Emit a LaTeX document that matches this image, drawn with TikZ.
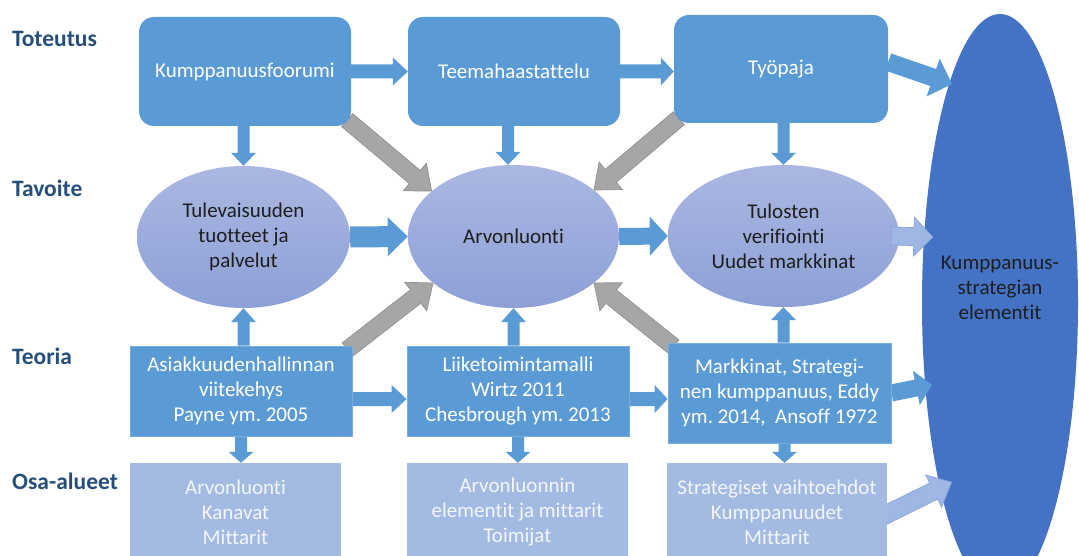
\documentclass[tikz,border=0pt]{standalone}
\usepackage{fontspec}
\setmainfont{Carlito}[Ligatures={NoCommon}]
\usetikzlibrary{shapes.geometric,calc}
\frenchspacing

\definecolor{lblcol}{RGB}{37,79,122}
\definecolor{boxblue}{RGB}{91,155,213}
\definecolor{boxedge}{RGB}{120,172,222}
\definecolor{paleblue}{RGB}{163,186,226}
\definecolor{paletext}{RGB}{244,246,250}
\definecolor{elltop}{RGB}{171,183,226}
\definecolor{ellbot}{RGB}{141,160,214}
\definecolor{bigblue}{RGB}{68,114,196}
\definecolor{arrgray}{RGB}{166,166,166}
\definecolor{arrgrayedge}{RGB}{145,145,145}
\definecolor{lightarrow}{RGB}{160,183,227}
\definecolor{lightedge}{RGB}{135,165,218}
\definecolor{darktext}{RGB}{30,30,30}

\pgfdeclarelayer{ellipses}
\pgfdeclarelayer{arrows}
\pgfsetlayers{ellipses,arrows,main}

% Block arrow between two points:
% #1 style, #2 from, #3 to, #4 shaft half-width, #5 head half-width,
% #6 head length, #7 overshoot of the tip beyond the target point
\newcommand\blockarrow[7]{%
  \coordinate (ba-a) at (#2);
  \coordinate (ba-b0) at (#3);
  \coordinate (ba-b) at ($(ba-b0)!-#7!(ba-a)$);
  \coordinate (ba-h) at ($(ba-b)!#6!(ba-a)$);
  \path[#1] ($(ba-a)!#4!90:(ba-b)$) -- ($(ba-h)!#4!-90:(ba-a)$)
    -- ($(ba-h)!#5!-90:(ba-a)$) -- (ba-b) -- ($(ba-h)!#5!90:(ba-a)$)
    -- ($(ba-h)!#4!90:(ba-a)$) -- ($(ba-a)!#4!-90:(ba-b)$) -- cycle;
}

\tikzset{
  rowlabel/.style={anchor=west, inner sep=0pt, text=lblcol,
    font=\fontsize{23.5}{28}\selectfont\bfseries},
  boxtext/.style={align=center, font=\fontsize{21}{25}\selectfont},
  stagebox/.style={boxtext, rounded corners=15pt, fill=boxblue, text=white, inner sep=0pt},
  theorybox/.style={boxtext, fill=boxblue, draw=boxedge, line width=0.8pt, text=white, inner sep=0pt},
  areabox/.style={boxtext, fill=paleblue, text=paletext, inner sep=0pt},
  goal/.style={boxtext, ellipse, top color=elltop, bottom color=ellbot, text=darktext, inner sep=0pt},
  bluearrow/.style={fill=boxblue},
  grayarrow/.style={fill=arrgray, draw=arrgrayedge, line width=0.7pt},
  palearrow/.style={fill=lightarrow, draw=lightedge, line width=0.7pt},
}

\begin{document}
\begin{tikzpicture}[x=1pt,y=-1pt]
\useasboundingbox (0,0) rectangle (1079,556);

\begin{pgfonlayer}{ellipses}
  \fill[white] (0,0) rectangle (1079,556);
  % goals
  \node[goal, minimum width=213pt, minimum height=142pt] (tul) at (243.5,237)
    {Tulevaisuuden\\tuotteet ja\\palvelut};
  \node[goal, minimum width=211pt, minimum height=143pt] (arv) at (513.5,236.5)
    {Arvonluonti};
  \node[goal, minimum width=231pt, minimum height=142pt] (tuv) at (783.5,236)
    {Tulosten\\verifiointi\\Uudet markkinat};
  % outcome
  \node[ellipse, fill=bigblue, minimum width=156pt, minimum height=578pt, inner sep=0pt]
    (big) at (1000,303) {};
\end{pgfonlayer}

% row labels
\node[rowlabel] (l1) at (12,39) {Toteutus};
\node[rowlabel] (l2) at (12,188) {Tavoite};
\node[rowlabel] (l3) at (12,356) {Teoria};
\node[rowlabel] (l4) at (12,481) {Osa-alueet};

% implementation stages
\node[stagebox, minimum width=212pt, minimum height=109pt] (kf) at (245,71.5) {Kumppanuusfoorumi};
\node[stagebox, minimum width=212pt, minimum height=109pt] (th) at (514,71.5) {Teemahaastattelu};
\node[stagebox, minimum width=214pt, minimum height=108pt] (ty) at (781,69) {Työpaja};

% theory
\node[theorybox, minimum width=222pt, minimum height=90pt] (as) at (241,391)
  {Asiakkuudenhallinnan\\viitekehys\\Payne ym. 2005};
\node[theorybox, minimum width=222pt, minimum height=90pt] (li) at (518,391)
  {Liiketoimintamalli\\Wirtz 2011\\Chesbrough ym. 2013};
\node[theorybox, minimum width=223pt, minimum height=100pt] (mk) at (779.5,393)
  {Markkinat, Strategi-\\nen kumppanuus, Eddy\\ym. 2014,\ \ Ansoff 1972};

% sub-areas
\node[areabox, minimum width=211pt, minimum height=99pt] (oa1) at (235.5,512.5)
  {Arvonluonti\\Kanavat\\Mittarit};
\node[areabox, minimum width=221pt, minimum height=99pt] (oa2) at (517.5,512.5)
  {Arvonluonnin\\elementit ja mittarit\\Toimijat};
\node[areabox, minimum width=220pt, minimum height=99pt] (oa3) at (777,512.5)
  {Strategiset vaihtoehdot\\Kumppanuudet\\Mittarit};

\node[boxtext, text=darktext, inner sep=0pt] (bigtxt) at (1000,288)
  {Kumppanuus-\\strategian\\elementit};

\begin{pgfonlayer}{arrows}
  % top row
  \blockarrow{bluearrow}{kf.east}{th.west}{7pt}{14pt}{15pt}{0pt}
  \blockarrow{bluearrow}{th.east}{ty.west |- th.east}{7pt}{14pt}{13pt}{0pt}
  \blockarrow{bluearrow}{[yshift=7pt]ty.east}{big.103.5}{9pt}{20pt}{20pt}{3pt}
  % stages down to goals
  \blockarrow{bluearrow}{tul.north |- kf.south}{tul.north}{6pt}{12.5pt}{13pt}{0pt}
  \blockarrow{bluearrow}{[xshift=-6pt]th.south}{[xshift=-5.5pt]arv.north}{6pt}{12.5pt}{13pt}{0pt}
  \blockarrow{bluearrow}{tuv.north |- ty.south}{tuv.north}{6pt}{12.5pt}{12pt}{0pt}
  % diagonal feeds into value creation
  \blockarrow{grayarrow}{[shift={(-4pt,6pt)}]kf.south east}{arv.151}{8.5pt}{18pt}{22pt}{0pt}
  \blockarrow{grayarrow}{[shift={(5pt,5pt)}]ty.south west}{arv.30}{8.5pt}{18pt}{22pt}{0pt}
  \blockarrow{grayarrow}{[shift={(-5pt,-4pt)}]as.north east}{arv.-150}{8.5pt}{18pt}{22pt}{0pt}
  \blockarrow{grayarrow}{[shift={(6pt,-4pt)}]mk.north west}{arv.-30}{8.5pt}{18pt}{22pt}{0pt}
  % goal row
  \blockarrow{bluearrow}{tul.east}{arv.west}{10.5pt}{19.5pt}{20pt}{0pt}
  \blockarrow{bluearrow}{arv.east}{tuv.west}{8.5pt}{19.5pt}{18pt}{0pt}
  \blockarrow{palearrow}{[xshift=-8pt]tuv.east}{big.139}{9pt}{19.5pt}{19pt}{9pt}
  % theory up to goals
  \blockarrow{bluearrow}{tul.south |- as.north}{tul.south}{6pt}{12.5pt}{14pt}{0pt}
  \blockarrow{bluearrow}{arv.south |- li.north}{arv.south}{6pt}{12.5pt}{14pt}{0pt}
  \blockarrow{bluearrow}{tuv.south |- mk.north}{tuv.south}{6pt}{12.5pt}{13pt}{0pt}
  % theory row
  \blockarrow{bluearrow}{[yshift=-8pt]as.east}{[yshift=-8pt]li.west}{7pt}{14pt}{15pt}{0pt}
  \blockarrow{bluearrow}{[yshift=-8pt]li.east}{[yshift=-6pt]mk.west}{7pt}{14pt}{13pt}{0pt}
  \blockarrow{bluearrow}{mk.east}{big.228.8}{8.5pt}{17.5pt}{16pt}{7pt}
  % theory down to sub-areas
  \blockarrow{bluearrow}{as.south}{as.south |- oa1.north}{6pt}{12.5pt}{11pt}{0pt}
  \blockarrow{bluearrow}{li.south}{li.south |- oa2.north}{6pt}{12.5pt}{11pt}{0pt}
  \blockarrow{bluearrow}{[xshift=5pt]mk.south}{[xshift=7.5pt]oa3.north}{6pt}{12.5pt}{11pt}{0pt}
  \blockarrow{palearrow}{[shift={(-5pt,-4pt)}]oa3.east}{big.252.35}{9pt}{18pt}{20pt}{13pt}
\end{pgfonlayer}
\end{tikzpicture}
\end{document}
